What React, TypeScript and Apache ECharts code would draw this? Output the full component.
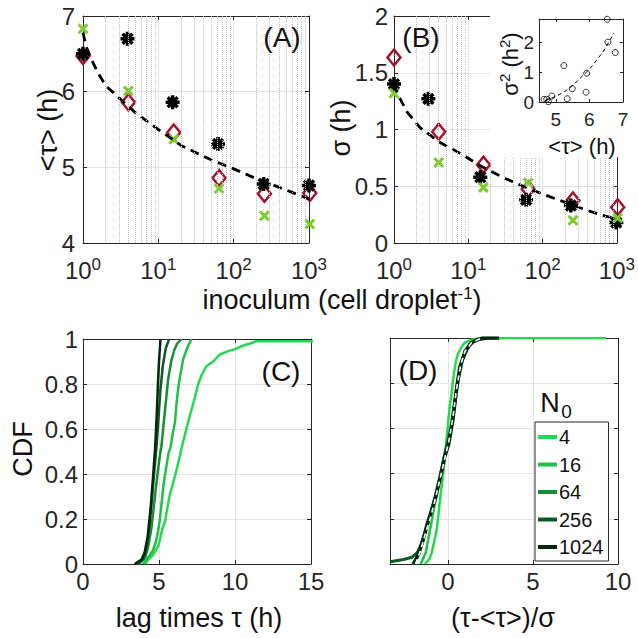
import { useEffect, useRef } from 'react';
import * as echarts from 'echarts';

const FONT = '"Liberation Sans", Arial, Helvetica, sans-serif';
const INK = '#262626';
const GRIDC = '#e3e3e3';
const MINORC = '#bdbdbd';
const RED = '#a2142f';
const LIME = '#7ccc2c';

// ---- Panels A & B : inoculum sizes and statistics ----
const inoculum = [1, 4, 16, 64, 256, 1024];
const inoculumBlackA = [1, 3.9, 15.5, 62, 250, 1000];
const inoculumBlackB = [1, 2.9, 14.5, 60, 240, 980];
const meanBlack = [6.5, 6.7, 5.86, 5.31, 4.78, 4.76];
const meanDiamond = [6.47, 5.86, 5.46, 4.86, 4.65, 4.66];
const meanCross = [6.83, 6.01, 5.37, 4.72, 4.36, 4.25];
const sdBlack = [1.4, 1.27, 0.58, 0.38, 0.33, 0.18];
const sdDiamond = [1.635, 0.98, 0.69, 0.475, 0.375, 0.315];
const sdCross = [1.32, 0.71, 0.49, 0.53, 0.2, 0.22];

const fitA_N = [1, 1.1, 1.3, 1.6, 2, 3, 5, 10, 20, 50, 100, 200, 500, 1000];
const fitA_mean = [6.78, 6.6, 6.42, 6.24, 6.08, 5.92, 5.72, 5.5, 5.29, 5.1, 4.98, 4.85, 4.7, 4.58];
const fitB_N = [1, 1.14, 1.5, 2.21, 4.06, 8.27, 14.5, 31, 69.8, 149, 303, 590, 1000];
const fitB_sd = [1.4, 1.3, 1.155, 1.02, 0.89, 0.78, 0.68, 0.57, 0.47, 0.39, 0.315, 0.25, 0.21];

const minorGrid = [2, 3, 4, 5, 6, 7, 8, 9, 20, 30, 40, 50, 60, 70, 80, 90, 200, 300, 400, 500, 600, 700, 800, 900];

// ---- Inset : variance vs mean ----
const insetMean = [6.53, 6.55, 6.77, 5.24, 5.92, 5.49, 5.9, 5.34, 4.88, 4.65, 4.73, 4.78];
const insetVar = [2.79, 2.02, 1.67, 1.23, 0.97, 0.45, 0.33, 0.11, 0.2, 0.09, 0.09, 0.01];
const insetFitMean = [4.68, 4.98, 5.25, 5.5, 5.72, 6.0, 6.22, 6.41, 6.73];
const insetFitVar = [0.04, 0.18, 0.34, 0.55, 0.8, 1.1, 1.42, 1.7, 2.32];

// ---- Panel C : CDF of lag times ----
const legendNames = ['4', '16', '64', '256', '1024'];
const greens = ['#25d94f', '#1fbf48', '#178c36', '#0b5a22', '#06260f'];
const cdfC4 = [[4.1, 0], [4.3, 0.02], [4.6, 0.04], [4.95, 0.08], [5.1, 0.12], [5.2, 0.15], [5.4, 0.19], [5.55, 0.25], [5.72, 0.31], [5.93, 0.36], [6.16, 0.42], [6.37, 0.48], [6.5, 0.52], [6.8, 0.6], [7.03, 0.66], [7.2, 0.7], [7.36, 0.74], [7.58, 0.8], [7.8, 0.84], [8.13, 0.88], [8.57, 0.9], [8.97, 0.93], [9.5, 0.945], [10.0, 0.955], [10.5, 0.97], [11.0, 0.98], [11.4, 0.99], [16, 0.99], [18.5, 1.0]];
const cdfC16 = [[3.95, 0], [4.3, 0.03], [4.6, 0.06], [4.8, 0.1], [4.95, 0.15], [5.06, 0.2], [5.17, 0.27], [5.28, 0.34], [5.4, 0.4], [5.5, 0.44], [5.62, 0.49], [5.76, 0.52], [5.9, 0.58], [6.05, 0.63], [6.16, 0.72], [6.3, 0.8], [6.4, 0.84], [6.59, 0.91], [6.8, 0.95], [6.92, 0.97], [7.14, 1.0]];
const cdfC64 = [[3.7, 0], [4.1, 0.03], [4.3, 0.08], [4.5, 0.16], [4.7, 0.28], [4.9, 0.4], [5.05, 0.48], [5.17, 0.53], [5.3, 0.62], [5.45, 0.72], [5.6, 0.82], [5.8, 0.9], [6.0, 0.95], [6.2, 0.98], [6.48, 1.0]];
const cdfC256 = [[3.5, 0], [3.95, 0.02], [4.15, 0.06], [4.35, 0.15], [4.55, 0.3], [4.7, 0.42], [4.85, 0.53], [4.98, 0.66], [5.1, 0.78], [5.25, 0.88], [5.45, 0.96], [5.67, 1.0]];
const cdfC1024 = [[3.4, 0], [3.85, 0.02], [4.05, 0.05], [4.25, 0.12], [4.45, 0.25], [4.6, 0.38], [4.75, 0.52], [4.85, 0.66], [4.93, 0.8], [5.0, 0.9], [5.1, 1.0]];

// ---- Panel D : rescaled CDFs ----
const cdfD4 = [[-1.35, 0], [-1.1, 0.02], [-0.95, 0.05], [-0.8, 0.1], [-0.66, 0.15], [-0.55, 0.22], [-0.47, 0.28], [-0.37, 0.34], [-0.27, 0.4], [-0.18, 0.47], [-0.1, 0.53], [0.02, 0.63], [0.1, 0.69], [0.21, 0.75], [0.3, 0.81], [0.37, 0.85], [0.48, 0.9], [0.6, 0.93], [0.8, 0.96], [1.0, 0.98], [1.48, 0.995], [3.5, 1.0], [9.3, 1.0]];
const cdfD16 = [[-1.6, 0], [-1.3, 0.05], [-1.05, 0.15], [-0.8, 0.25], [-0.55, 0.35], [-0.3, 0.45], [-0.05, 0.53], [0.15, 0.6], [0.35, 0.7], [0.55, 0.8], [0.75, 0.88], [1.0, 0.94], [1.3, 0.98], [1.8, 1.0]];
const cdfD64 = [[-2.1, 0], [-1.7, 0.04], [-1.45, 0.1], [-1.2, 0.17], [-0.9, 0.26], [-0.6, 0.34], [-0.35, 0.43], [-0.1, 0.52], [0.15, 0.6], [0.4, 0.72], [0.6, 0.82], [0.85, 0.9], [1.1, 0.95], [1.5, 0.99], [2.0, 1.0]];
const cdfD256 = [[-3.4, 0.01], [-2.6, 0.02], [-2.1, 0.03], [-1.8, 0.05], [-1.55, 0.09], [-1.3, 0.15], [-1.05, 0.21], [-0.8, 0.28], [-0.55, 0.36], [-0.3, 0.44], [-0.05, 0.52], [0.2, 0.6], [0.4, 0.7], [0.6, 0.81], [0.85, 0.9], [1.2, 0.96], [1.6, 0.99], [2.4, 1.0]];
const cdfD1024 = [[-2.0, 0], [-1.7, 0.05], [-1.45, 0.11], [-1.2, 0.18], [-0.95, 0.24], [-0.7, 0.3], [-0.45, 0.38], [-0.2, 0.47], [0.05, 0.53], [0.3, 0.64], [0.5, 0.77], [0.7, 0.87], [1.0, 0.94], [1.4, 0.98], [2.0, 1.0], [3.0, 1.0]];
const fitD = [[-1.9, 0], [-1.6, 0.06], [-1.3, 0.14], [-1.0, 0.21], [-0.7, 0.3], [-0.45, 0.38], [-0.2, 0.46], [0.05, 0.54], [0.3, 0.65], [0.5, 0.77], [0.75, 0.88], [1.0, 0.94], [1.4, 0.98], [2.0, 1.0]];

function barsPath(angles: number[], w: number): string {
  return angles
    .map((a) => {
      const r = (a * Math.PI) / 180;
      const c = Math.cos(r);
      const s = Math.sin(r);
      const p = [
        [c - w * s, s + w * c],
        [-c - w * s, -s + w * c],
        [-c + w * s, -s - w * c],
        [c + w * s, s - w * c],
      ];
      return 'M' + p.map((q) => q[0].toFixed(3) + ' ' + q[1].toFixed(3)).join(' L') + ' Z';
    })
    .join(' ');
}
const ASTERISK = 'path://' + barsPath([0, 45, 90, 135], 0.25);
const CROSS = 'path://' + barsPath([45, 135], 0.24);

const tick = (len = 4) => ({ show: true, inside: true, length: len, lineStyle: { color: INK, width: 1 } });
const aline = { show: true, onZero: false, lineStyle: { color: INK, width: 1 } };
const split = { show: true, showMinLine: false, showMaxLine: false, lineStyle: { color: GRIDC, width: 1 } };
const lbl = (size: number, margin: number, extra: any = {}) => ({ color: INK, fontSize: size, fontFamily: FONT, margin, ...extra });

const powLabel = {
  formatter: (v: number) => `{b|10}{s|${Math.round(Math.log10(v))}}`,
  margin: 13,
  rich: {
    b: { fontSize: 24, fontFamily: FONT, color: INK, lineHeight: 28 },
    s: { fontSize: 17, fontFamily: FONT, color: INK, lineHeight: 16, verticalAlign: 'top' },
  },
};

function hiddenTwin(base: any) {
  return { ...base, axisLine: aline, axisTick: tick(), axisLabel: { show: false }, splitLine: { show: false } };
}

export default function App() {
  const ref = useRef<HTMLDivElement>(null);
  useEffect(() => {
    if (!ref.current) return;
    const chart = echarts.init(ref.current, null, { renderer: 'svg' });

    const xA = { type: 'log', logBase: 10, gridIndex: 0, min: 1, max: 1000 };
    const xB = { type: 'log', logBase: 10, gridIndex: 1, min: 1, max: 1000 };
    const xI = { type: 'value', gridIndex: 2, min: 4.5, max: 7, splitNumber: 3, z: 60 };
    const xC = { type: 'value', gridIndex: 3, min: 0, max: 15, interval: 5 };
    const xD = { type: 'value', gridIndex: 4, min: -3.4, max: 10, splitNumber: 3 };
    const yA = { type: 'value', gridIndex: 0, min: 4, max: 7, interval: 1 };
    const yB = { type: 'value', gridIndex: 1, min: 0, max: 2, interval: 0.5 };
    const yI = { type: 'value', gridIndex: 2, min: 0, max: 2.8, interval: 1, z: 60 };
    const yC = { type: 'value', gridIndex: 3, min: 0, max: 1, interval: 0.2 };
    const yD = { type: 'value', gridIndex: 4, min: 0, max: 1, interval: 0.2 };

    const xAxis: any[] = [
      { ...xA, position: 'bottom', axisLine: aline, axisTick: tick(), axisLabel: powLabel, splitLine: split },
      { ...xB, position: 'bottom', axisLine: aline, axisTick: tick(), axisLabel: powLabel, splitLine: split },
      { ...xI, position: 'bottom', axisLine: aline, axisTick: tick(3), axisLabel: lbl(19, 8, { showMinLabel: false }), splitLine: { show: false } },
      { ...xC, position: 'bottom', axisLine: aline, axisTick: tick(), axisLabel: lbl(24, 5), splitLine: split },
      { ...xD, position: 'bottom', axisLine: aline, axisTick: tick(), axisLabel: lbl(24, 5, { showMinLabel: false }), splitLine: split },
      hiddenTwin({ ...xA, position: 'top' }),
      hiddenTwin({ ...xB, position: 'top' }),
      { ...hiddenTwin({ ...xI, position: 'top' }), axisTick: tick(3) },
      hiddenTwin({ ...xC, position: 'top' }),
      hiddenTwin({ ...xD, position: 'top' }),
    ];
    const yAxis: any[] = [
      { ...yA, position: 'left', axisLine: aline, axisTick: tick(), axisLabel: lbl(24, 8), splitLine: split },
      { ...yB, position: 'left', axisLine: aline, axisTick: tick(), axisLabel: lbl(24, 6), splitLine: split },
      { ...yI, position: 'left', axisLine: aline, axisTick: tick(3), axisLabel: lbl(19, 5, { showMaxLabel: false }), splitLine: { show: false } },
      { ...yC, position: 'left', axisLine: aline, axisTick: tick(), axisLabel: lbl(24, 5), splitLine: split },
      { ...yD, position: 'left', axisLine: aline, axisTick: tick(), axisLabel: { show: false }, splitLine: split },
      hiddenTwin({ ...yA, position: 'right' }),
      hiddenTwin({ ...yB, position: 'right' }),
      { ...hiddenTwin({ ...yI, position: 'right' }), axisTick: tick(3) },
      hiddenTwin({ ...yC, position: 'right' }),
      hiddenTwin({ ...yD, position: 'right' }),
    ];

    const minorMark = {
      silent: true,
      symbol: ['none', 'none'],
      label: { show: false },
      lineStyle: { color: MINORC, width: 1, type: 'dotted' },
      emphasis: { disabled: true },
      data: minorGrid.map((v) => ({ xAxis: v })),
    };

    const diamond = (xi: number, yi: number, xs: number[], ys: number[], mark: boolean) => ({
      type: 'scatter', xAxisIndex: xi, yAxisIndex: yi, clip: false, z: 2,
      data: xs.map((x, i) => [x, ys[i]]),
      symbol: 'diamond', symbolSize: [13, 16],
      itemStyle: { color: 'rgba(255,255,255,0)', borderColor: RED, borderWidth: 2.5, opacity: 1 },
      markLine: mark ? minorMark : undefined,
    });
    const star = (xi: number, yi: number, xs: number[], ys: number[]) => ({
      type: 'scatter', xAxisIndex: xi, yAxisIndex: yi, clip: false, z: 3,
      data: xs.map((x, i) => [x, ys[i]]),
      symbol: ASTERISK, symbolSize: 14, itemStyle: { color: '#000', opacity: 1 },
    });
    const cross = (xi: number, yi: number, xs: number[], ys: number[]) => ({
      type: 'scatter', xAxisIndex: xi, yAxisIndex: yi, clip: false, z: 3,
      data: xs.map((x, i) => [x, ys[i]]),
      symbol: CROSS, symbolSize: 11, itemStyle: { color: LIME, opacity: 1 },
    });
    const fitLine = (xi: number, yi: number, xs: number[], ys: number[]) => ({
      type: 'line', xAxisIndex: xi, yAxisIndex: yi, z: 4, symbol: 'none', showSymbol: false,
      data: xs.map((x, i) => [x, ys[i]]),
      lineStyle: { color: '#000', width: 2.8, type: [9, 6] },
    });
    const cdf = (xi: number, name: string, color: string, data: number[][], width = 2.5) => ({
      type: 'line', name, xAxisIndex: xi, yAxisIndex: xi, symbol: 'none', showSymbol: false, z: 3,
      data, itemStyle: { color }, lineStyle: { color, width },
    });

    const series: any[] = [
      diamond(0, 0, inoculum, meanDiamond, true),
      star(0, 0, inoculumBlackA, meanBlack),
      cross(0, 0, inoculum, meanCross),
      fitLine(0, 0, fitA_N, fitA_mean),
      diamond(1, 1, inoculum, sdDiamond, true),
      star(1, 1, inoculumBlackB, sdBlack),
      cross(1, 1, inoculum, sdCross),
      fitLine(1, 1, fitB_N, fitB_sd),
      {
        type: 'scatter', xAxisIndex: 2, yAxisIndex: 2, z: 62, clip: false,
        data: insetMean.map((m, i) => [m, insetVar[i]]),
        symbol: 'circle', symbolSize: 6,
        itemStyle: { color: 'rgba(255,255,255,0)', borderColor: '#000', borderWidth: 0.8, opacity: 1 },
      },
      {
        type: 'line', xAxisIndex: 2, yAxisIndex: 2, z: 62, symbol: 'none', showSymbol: false,
        data: insetFitMean.map((m, i) => [m, insetFitVar[i]]),
        lineStyle: { color: '#000', width: 1, type: [4, 3] },
      },
      cdf(3, legendNames[0], greens[0], cdfC4),
      cdf(3, legendNames[1], greens[1], cdfC16),
      cdf(3, legendNames[2], greens[2], cdfC64),
      cdf(3, legendNames[3], greens[3], cdfC256),
      cdf(3, legendNames[4], greens[4], cdfC1024),
      cdf(4, legendNames[0], greens[0], cdfD4),
      cdf(4, legendNames[1], greens[1], cdfD16),
      cdf(4, legendNames[2], greens[2], cdfD64),
      cdf(4, legendNames[3], greens[3], cdfD256, 3),
      cdf(4, legendNames[4], greens[4], cdfD1024, 3.5),
      {
        type: 'line', xAxisIndex: 4, yAxisIndex: 4, z: 5, symbol: 'none', showSymbol: false,
        data: fitD, lineStyle: { color: '#fff', width: 1.6, type: [5, 4] },
      },
    ];

    const txt = (x: number, y: number, text: string, size: number, extra: any = {}, rot = 0, z = 100) => ({
      type: 'text', x, y, rotation: rot, z,
      style: {
        text, fill: '#111', font: `${size}px ${FONT}`, fontSize: size, fontFamily: FONT,
        textAlign: 'center', align: 'center', textVerticalAlign: 'middle', verticalAlign: 'middle', ...extra,
      },
    });
    const richTxt = (x: number, y: number, text: string, size: number, sup: number, rot = 0, z = 100) => ({
      type: 'text', x, y, rotation: rot, z,
      style: {
        text, fill: '#111', textAlign: 'center', align: 'center', textVerticalAlign: 'middle', verticalAlign: 'middle',
        rich: {
          a: { fontSize: size, fontFamily: FONT, fill: '#111', color: '#111', lineHeight: size + 4 },
          s: { fontSize: sup, fontFamily: FONT, fill: '#111', color: '#111', lineHeight: sup, verticalAlign: 'top' },
        },
      },
    });

    const graphic: any[] = [
      { type: 'rect', z: 50, shape: { x: 490, y: 0, width: 148, height: 157 }, style: { fill: '#fff' } },
      txt(48, 130, '<τ> (h)', 27, {}, Math.PI / 2),
      txt(341, 128, 'σ (h)', 27, {}, Math.PI / 2),
      txt(23, 449, 'CDF', 27, {}, Math.PI / 2),
      richTxt(342, 300, '{a|inoculum (cell droplet}{s|-1}{a|)}', 27, 17),
      txt(199, 618, 'lag times τ (h)', 27),
      txt(503, 618, '(τ-<τ>)/σ', 27),
      txt(282, 37, '(A)', 28),
      txt(421, 37, '(B)', 28),
      txt(281, 371, '(C)', 28),
      txt(418, 370, '(D)', 28),
      richTxt(510, 64, '{a|σ}{s|2}{a| (h}{s|2}{a|)}', 22, 15, Math.PI / 2, 70),
      txt(582, 146, '<τ> (h)', 22, {}, 0, 70),
      txt(550, 402.5, 'N', 27),
      txt(566.5, 411, '0', 19),
    ];

    chart.setOption({
      animation: false,
      backgroundColor: '#fff',
      textStyle: { fontFamily: FONT },
      grid: [
        { left: 83, top: 16, width: 226, height: 227 },
        { left: 394, top: 16, width: 227, height: 227 },
        { left: 539, top: 19, width: 84, height: 83, z: 60 },
        { left: 83, top: 339, width: 228, height: 225 },
        { left: 390, top: 338, width: 228, height: 226 },
      ],
      xAxis,
      yAxis,
      series,
      graphic: { elements: graphic },
      legend: {
        data: legendNames,
        orient: 'vertical',
        left: 535,
        top: 422,
        itemWidth: 19,
        itemHeight: 4,
        itemGap: 7.5,
        icon: 'rect',
        selectedMode: false,
        backgroundColor: '#fff',
        borderColor: INK,
        borderWidth: 1,
        borderRadius: 0,
        padding: [5, 5, 4, 3],
        textStyle: { color: '#111', fontSize: 20, fontFamily: FONT, padding: [0, 0, 0, -3] },
      },
    });
    return () => chart.dispose();
  }, []);
  return <div ref={ref} style={{ position: 'fixed', left: 0, top: 0, width: 638, height: 638, background: '#fff' }} />;
}
